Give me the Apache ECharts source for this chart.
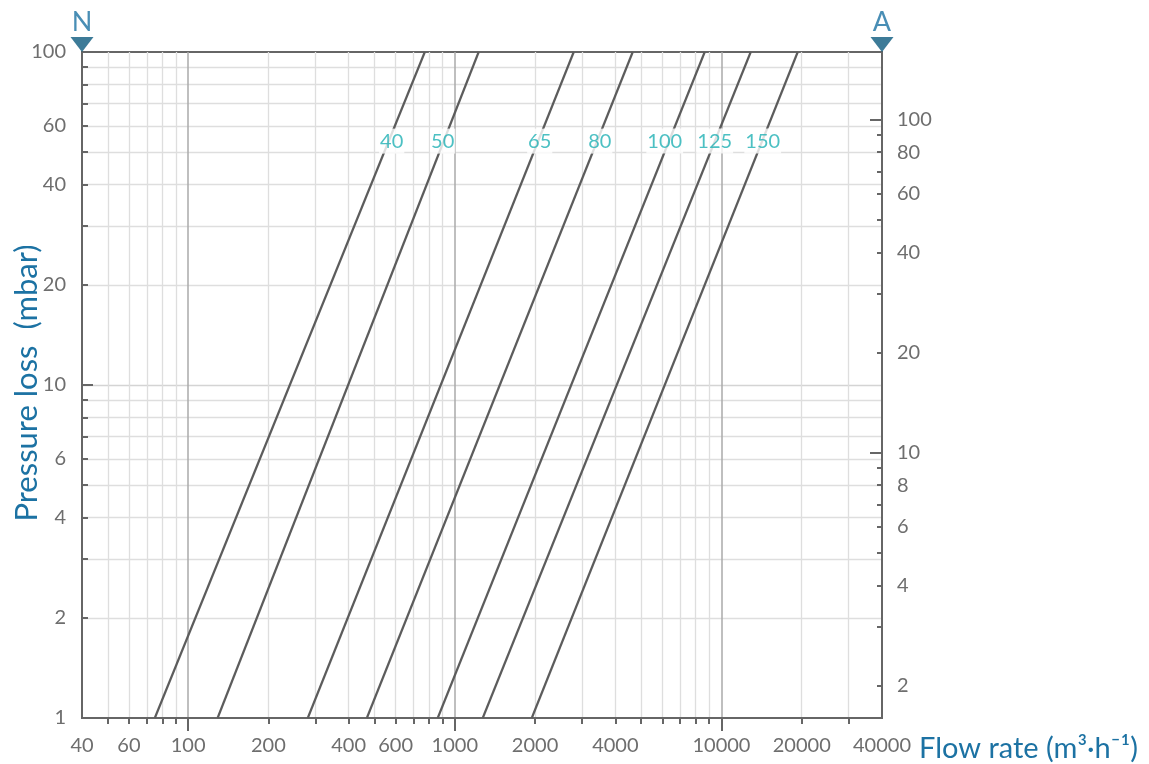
<!DOCTYPE html>
<html><head><meta charset="utf-8">
<script src="https://cdn.jsdelivr.net/npm/echarts@6/dist/echarts.min.js"></script>
<style>html,body{margin:0;padding:0;background:#fff}#c{width:1149px;height:764px}</style>
</head><body><div id="c"></div>
<script>
// Nominal sizes (DN) and flow (m3/h) where each line meets 1 mbar and 100 mbar
const sizeLabels = ['40', '50', '65', '80', '100', '125', '150'];
const flowAt1mbar = [75, 129, 281, 468, 863, 1273, 1944];
const flowAt100mbar = [772, 1229, 2793, 4648, 8655, 12875, 19320];
// Where the size labels sit (pressure in mbar on left axis, flow)
const labelPressure = 54;
const labelFlow = [580, 901, 2082, 3496, 6128, 9436, 14280];

// Axis ticks
const xTickLabels = [40, 60, 100, 200, 400, 600, 1000, 2000, 4000, 10000, 20000, 40000];
const xMinorTicks = [50, 60, 70, 80, 90, 200, 300, 400, 500, 600, 700, 800, 900,
  2000, 3000, 4000, 5000, 6000, 7000, 8000, 9000, 20000, 30000];
const xMajorTicks = [100, 1000, 10000];
const yTickLabels = [1, 2, 4, 6, 10, 20, 40, 60, 100];
const yMinorTicks = [2, 3, 4, 5, 6, 7, 8, 9, 20, 30, 40, 50, 60, 70, 80, 90];
const yMajorTicks = [10];
const rightTickLabels = [2, 4, 6, 8, 10, 20, 40, 60, 80, 100];
const rightMinorTicks = [2, 3, 4, 5, 6, 7, 8, 9, 20, 30, 40, 50, 60, 70, 80, 90];
const rightMajorTicks = [10, 100];
const xRange = [40, 40000];
const yRange = [1, 100];
const rightRange = [1.6, 160];
const scaleMarkers = [{ name: 'N', value: [40, 100] }, { name: 'A', value: [40000, 100] }];

const FONT = 'Lato';
const AXIS_COLOR = '#666';
const LABEL_COLOR = '#6e6e6e';
const BLUE = '#1c72a3';

const chart = echarts.init(document.getElementById('c'), null, { renderer: 'canvas' });
const fmt = v => String(Math.round(v));

const baseLog = (extra) => Object.assign({
  type: 'log', logBase: 10, gridIndex: 0,
  axisLine: { show: false, onZero: false },
  axisTick: { show: false },
  axisLabel: { show: false },
  splitLine: { show: false },
  minorTick: { show: false },
  minorSplitLine: { show: false }
}, extra);

const option = {
  animation: false,
  backgroundColor: '#fff',
  grid: { left: 82, right: 267, top: 52, bottom: 46, show: true, borderColor: AXIS_COLOR, borderWidth: 2, backgroundColor: 'transparent', outerBoundsMode: 'none', containLabel: false },
  xAxis: [
    baseLog({
      position: 'bottom', min: xRange[0], max: xRange[1],
      axisLine: { show: true, onZero: false, lineStyle: { color: AXIS_COLOR, width: 2 } },
      axisTick: { show: true, inside: false, length: 6, customValues: xMinorTicks, lineStyle: { color: AXIS_COLOR, width: 2 } },
      axisLabel: { show: true, customValues: xTickLabels, formatter: fmt, margin: 18, color: LABEL_COLOR, fontSize: 20, fontFamily: FONT },
      splitLine: { show: true, lineStyle: { color: '#dedede', width: 1.3 } }
    }),
    baseLog({
      position: 'bottom', min: xRange[0], max: xRange[1],
      axisTick: { show: true, inside: false, length: 13, customValues: xMajorTicks, lineStyle: { color: AXIS_COLOR, width: 2 } },
      splitLine: { show: true, lineStyle: { color: '#aaaaaa', width: 1.5 } }
    })
  ],
  yAxis: [
    baseLog({
      position: 'left', min: yRange[0], max: yRange[1],
      axisLine: { show: true, onZero: false, lineStyle: { color: AXIS_COLOR, width: 2 } },
      axisTick: { show: true, inside: true, length: 6, customValues: yMinorTicks, lineStyle: { color: AXIS_COLOR, width: 2 } },
      axisLabel: { show: true, customValues: yTickLabels, formatter: fmt, margin: 16, color: LABEL_COLOR, fontSize: 20, fontFamily: FONT },
      splitLine: { show: true, lineStyle: { color: '#dedede', width: 1.3 } }
    }),
    baseLog({
      position: 'left', min: yRange[0], max: yRange[1],
      axisTick: { show: true, inside: true, length: 11, customValues: yMajorTicks, lineStyle: { color: AXIS_COLOR, width: 2 } },
      splitLine: { show: true, lineStyle: { color: '#d4d4d4', width: 1.3 } }
    }),
    baseLog({
      position: 'right', min: rightRange[0], max: rightRange[1],
      axisLine: { show: true, onZero: false, lineStyle: { color: AXIS_COLOR, width: 2 } },
      axisTick: { show: true, inside: true, length: 5, customValues: rightMinorTicks, lineStyle: { color: AXIS_COLOR, width: 2 } },
      axisLabel: { show: true, customValues: rightTickLabels, formatter: fmt, margin: 15, color: LABEL_COLOR, fontSize: 20, fontFamily: FONT }
    }),
    baseLog({
      position: 'right', min: rightRange[0], max: rightRange[1],
      axisTick: { show: true, inside: true, length: 12, customValues: rightMajorTicks, lineStyle: { color: AXIS_COLOR, width: 2 } }
    })
  ],
  series: sizeLabels.map((name, i) => ({
    name: 'DN' + name, type: 'line', xAxisIndex: 0, yAxisIndex: 0,
    data: [[flowAt1mbar[i], 1], [flowAt100mbar[i], 100]],
    symbol: 'none', silent: true, z: 3,
    lineStyle: { color: '#5c5c5c', width: 2.2 }
  })).concat([
    {
      type: 'scatter', xAxisIndex: 0, yAxisIndex: 0, z: 8, clip: false, silent: true,
      data: labelFlow.map((f, i) => ({ name: sizeLabels[i], value: [f, labelPressure] })),
      symbolSize: 2, itemStyle: { color: 'rgba(0,0,0,0)' },
      label: { show: true, position: 'inside', formatter: '{b}', color: '#1fb0b4', fontSize: 20, fontFamily: FONT, backgroundColor: '#ffffff', padding: [3, 1, 2, 1] }
    },
    {
      type: 'scatter', xAxisIndex: 0, yAxisIndex: 0, z: 10, clip: false, silent: true,
      data: scaleMarkers,
      symbol: 'path://M0,0L20,0L10,13Z', symbolKeepAspect: false,
      symbolSize: [23, 15], symbolOffset: [0, -7.5],
      itemStyle: { color: '#0c5a7e' },
      label: { show: true, position: 'top', distance: 1, formatter: '{b}', color: BLUE, fontSize: 27, fontFamily: FONT }
    }
  ]),
  graphic: [
    { type: 'text', x: 27, y: 383, rotation: Math.PI / 2,
      style: { text: 'Pressure loss  (mbar)', fill: BLUE, font: '31px Lato', textAlign: 'center', textVerticalAlign: 'middle' } },
    { type: 'text', x: 919, y: 749,
      style: { text: 'Flow rate (m³·h⁻¹)', fill: BLUE, font: '29px Lato', textAlign: 'left', textVerticalAlign: 'middle' } }
  ]
};
chart.setOption(option);
</script>
</body></html>
